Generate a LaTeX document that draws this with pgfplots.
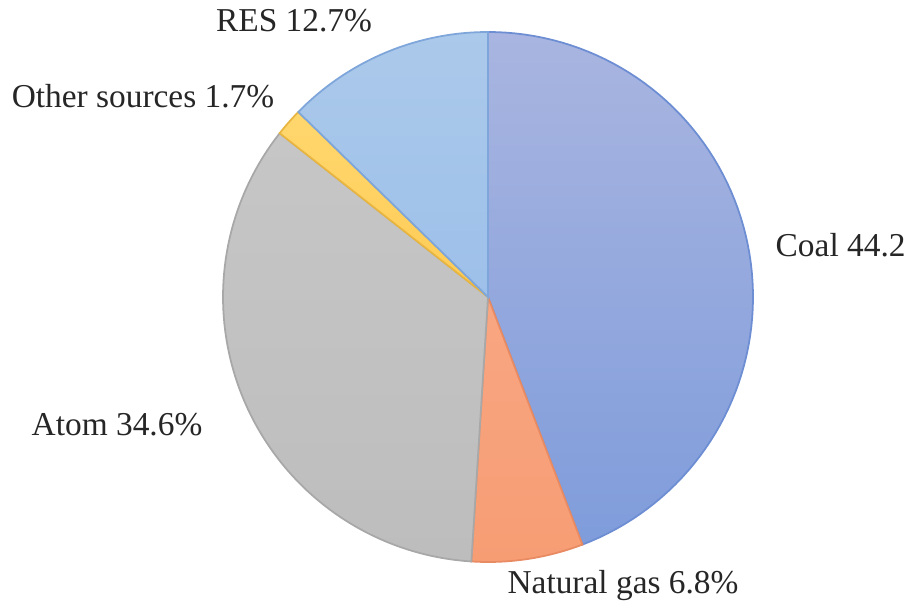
\documentclass[border=0pt]{standalone}
\usepackage{pgfplots}
\usepackage{pgfplotstable}
\pgfplotsset{compat=1.18}
\usepackage{fontspec}
\setmainfont{Liberation Serif}

\pgfplotstableread{
label value
Coal 44.2
Gas 6.8
Atom 34.6
Other 1.7
RES 12.7
}\piedata

\definecolor{coalT}{HTML}{A9B5E0}
\definecolor{coalB}{HTML}{7F9CDB}
\definecolor{coalD}{HTML}{6E8ED3}
\definecolor{gasT}{HTML}{F8A682}
\definecolor{gasB}{HTML}{F79D74}
\definecolor{gasD}{HTML}{E88A62}
\definecolor{atomT}{HTML}{C6C6C6}
\definecolor{atomB}{HTML}{BDBDBD}
\definecolor{atomD}{HTML}{A8A8A8}
\definecolor{othT}{HTML}{FFD76E}
\definecolor{othB}{HTML}{FFCB55}
\definecolor{othD}{HTML}{E8B640}
\definecolor{resT}{HTML}{ABC9EA}
\definecolor{resB}{HTML}{9DC0EA}
\definecolor{resD}{HTML}{7FA6DA}

\newcommand\cx{488}
\newcommand\cy{306}
\newcommand\rr{265}

\begin{document}
\begin{tikzpicture}
\begin{axis}[
  scale only axis, width=9.04cm, height=6.03cm,
  xmin=0, xmax=904, ymin=0, ymax=603,
  axis lines=none, clip=false,
]
% slice angles from the table values
\pgfplotstablegetelem{0}{value}\of\piedata \pgfmathsetmacro\vA{\pgfplotsretval}
\pgfplotstablegetelem{1}{value}\of\piedata \pgfmathsetmacro\vB{\pgfplotsretval}
\pgfplotstablegetelem{2}{value}\of\piedata \pgfmathsetmacro\vC{\pgfplotsretval}
\pgfplotstablegetelem{3}{value}\of\piedata \pgfmathsetmacro\vD{\pgfplotsretval}
\pgfplotstablegetelem{4}{value}\of\piedata \pgfmathsetmacro\vE{\pgfplotsretval}
\pgfmathsetmacro\aA{90}
\pgfmathsetmacro\aB{\aA-3.6*\vA}
\pgfmathsetmacro\aC{\aB-3.6*\vB}
\pgfmathsetmacro\aD{\aC-3.6*\vC}
\pgfmathsetmacro\aE{\aD-3.6*\vD}
\pgfmathsetmacro\aF{\aE-3.6*\vE}

\addplot[draw=coalD, line width=0.5pt, top color=coalT, bottom color=coalB, domain=\aB:\aA, samples=80, variable=\t]
  ({\cx+\rr*cos(t)},{\cy+\rr*sin(t)}) -- (axis cs:\cx,\cy) -- cycle;
\addplot[draw=gasD, line width=0.5pt, top color=gasT, bottom color=gasB, domain=\aC:\aB, samples=20, variable=\t]
  ({\cx+\rr*cos(t)},{\cy+\rr*sin(t)}) -- (axis cs:\cx,\cy) -- cycle;
\addplot[draw=atomD, line width=0.5pt, top color=atomT, bottom color=atomB, domain=\aD:\aC, samples=80, variable=\t]
  ({\cx+\rr*cos(t)},{\cy+\rr*sin(t)}) -- (axis cs:\cx,\cy) -- cycle;
\addplot[draw=othD, line width=0.5pt, top color=othT, bottom color=othB, domain=\aE:\aD, samples=10, variable=\t]
  ({\cx+\rr*cos(t)},{\cy+\rr*sin(t)}) -- (axis cs:\cx,\cy) -- cycle;
\addplot[draw=resD, line width=0.5pt, top color=resT, bottom color=resB, domain=\aF:\aE, samples=40, variable=\t]
  ({\cx+\rr*cos(t)},{\cy+\rr*sin(t)}) -- (axis cs:\cx,\cy) -- cycle;

\tikzset{lab/.style={font=\fontsize{9.5}{11}\selectfont, text=black!85, inner sep=0pt}}
\node[lab, anchor=base] at (axis cs:294,571) {RES 12.7\%};
\node[lab, anchor=base] at (axis cs:143,495) {Other sources 1.7\%};
\node[lab, anchor=base west] at (axis cs:775,346) {Coal 44.2\%};
\node[lab, anchor=base] at (axis cs:117,168) {Atom 34.6\%};
\node[lab, anchor=base] at (axis cs:623,10) {Natural gas 6.8\%};
\end{axis}
\pgfresetboundingbox
\path[use as bounding box] (current axis.south west) rectangle (current axis.north east);
\end{tikzpicture}
\end{document}
